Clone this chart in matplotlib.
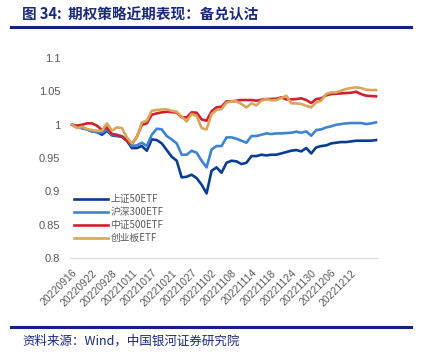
import matplotlib
matplotlib.use("Agg")
import matplotlib.pyplot as plt
from matplotlib.lines import Line2D

plt.rcParams['font.family'] = ['Noto Sans CJK SC', 'DejaVu Sans']

# trading-day labels shown every 4 points
tick_labels = ['20220916', '20220922', '20220928', '20221011', '20221017',
               '20221021', '20221027', '20221102', '20221108', '20221114',
               '20221118', '20221124', '20221130', '20221206', '20221212']

sz50 = [1.000, 0.997, 0.995, 0.993, 0.990, 0.989, 0.985, 0.991, 0.984, 0.983,
        0.982, 0.976, 0.965, 0.965, 0.968, 0.961, 0.978, 0.977, 0.972, 0.962,
        0.952, 0.946, 0.921, 0.922, 0.925, 0.920, 0.910, 0.897, 0.931, 0.936,
        0.928, 0.943, 0.946, 0.945, 0.941, 0.943, 0.953, 0.953, 0.955, 0.954,
        0.955, 0.955, 0.957, 0.959, 0.961, 0.962, 0.960, 0.965, 0.957, 0.966,
        0.968, 0.969, 0.972, 0.973, 0.974, 0.974, 0.975, 0.976, 0.976, 0.976,
        0.976, 0.977]

hs300 = [1.000, 0.996, 0.995, 0.993, 0.990, 0.989, 0.988, 0.993, 0.985, 0.984,
         0.983, 0.978, 0.968, 0.969, 0.973, 0.968, 0.985, 0.994, 0.993, 0.983,
         0.978, 0.972, 0.955, 0.955, 0.961, 0.958, 0.946, 0.936, 0.963, 0.968,
         0.968, 0.981, 0.981, 0.979, 0.976, 0.973, 0.983, 0.983, 0.985, 0.987,
         0.986, 0.987, 0.987, 0.9875, 0.988, 0.9895, 0.988, 0.990, 0.9835, 0.992,
         0.993, 0.996, 0.9975, 1.000, 1.001, 1.002, 1.0025, 1.0025, 1.0025, 1.001,
         1.002, 1.0035]

zz500 = [1.000, 0.9985, 1.000, 1.002, 1.002, 0.9985, 0.992, 0.996, 0.986, 0.985,
         0.982, 0.976, 0.971, 0.982, 1.000, 1.002, 1.015, 1.017, 1.0185, 1.0195,
         1.019, 1.018, 1.011, 1.011, 1.0185, 1.018, 1.008, 1.006, 1.020, 1.026,
         1.027, 1.035, 1.035, 1.036, 1.037, 1.037, 1.037, 1.036, 1.0375, 1.0385,
         1.0385, 1.039, 1.041, 1.038, 1.038, 1.0385, 1.0395, 1.037, 1.0325, 1.0385,
         1.0395, 1.044, 1.046, 1.0465, 1.047, 1.0475, 1.048, 1.0495, 1.046, 1.0435,
         1.043, 1.0425]

cyb = [1.000, 0.995, 0.997, 0.9935, 0.992, 0.991, 0.991, 1.002, 0.991, 0.996,
       0.995, 0.981, 0.972, 0.981, 1.0035, 1.006, 1.021, 1.022, 1.023, 1.023,
       1.021, 1.0195, 1.012, 1.005, 1.016, 1.013, 0.995, 0.993, 1.016, 1.022,
       1.0235, 1.033, 1.035, 1.035, 1.031, 1.026, 1.032, 1.029, 1.036, 1.0385,
       1.0365, 1.037, 1.040, 1.0435, 1.032, 1.032, 1.031, 1.0285, 1.026, 1.0335,
       1.036, 1.046, 1.0485, 1.0485, 1.051, 1.0535, 1.055, 1.056, 1.055, 1.0525,
       1.052, 1.052]

series = [('上证50ETF', sz50, '#0a3d8f'),
          ('沪深300ETF', hs300, '#3d85d4'),
          ('中证500ETF', zz500, '#d21f2f'),
          ('创业板ETF', cyb, '#d9a65c')]

fig = plt.figure(figsize=(4.3, 3.56), dpi=100)
ax = fig.add_axes([0.163, 0.275, 0.716, 0.562])

x = list(range(len(sz50)))
for name, vals, col in series:
    ax.plot(x, vals, color=col, lw=1.9, label=name)

ax.set_ylim(0.8, 1.1)
ax.set_xlim(-0.4, len(x) - 0.6)
ax.set_yticks([0.8, 0.85, 0.9, 0.95, 1.0, 1.05, 1.1])
ax.set_yticklabels(['0.8', '0.85', '0.9', '0.95', '1', '1.05', '1.1'],
                   fontsize=8, color='#595959', family='Liberation Sans')
ax.set_xticks(range(0, 4 * len(tick_labels), 4))
ax.set_xticklabels(tick_labels, rotation=45, ha='right', rotation_mode='anchor',
                   fontsize=7.5, color='#595959', family='Liberation Sans')
ax.tick_params(length=0)
ax.tick_params(axis='x', pad=7)
ax.tick_params(axis='y', pad=7)
for s in ['top', 'right', 'left']:
    ax.spines[s].set_visible(False)
ax.spines['bottom'].set_color('#d9d9d9')
ax.spines['bottom'].set_linewidth(0.8)

leg = ax.legend(loc='lower left', bbox_to_anchor=(0.0, 0.055), frameon=False,
                fontsize=7, handlelength=3.5, labelspacing=0.3,
                handletextpad=0.25, borderaxespad=0.0)
for t in leg.get_texts():
    t.set_color('#595959')

navy = '#1b2a7a'
fig.text(22 / 430, 1 - 15 / 356, '图 34:  期权策略近期表现：备兑认沽', fontsize=10.5,
         fontweight='bold', color=navy, va='center', ha='left')
fig.add_artist(Line2D([11 / 430, 411 / 430], [1 - 27 / 356, 1 - 27 / 356],
                      color='#14237f', lw=2.2))
fig.add_artist(Line2D([11 / 430, 411 / 430], [1 - 327 / 356, 1 - 327 / 356],
                      color='#14237f', lw=2.2))
fig.text(22 / 430, 1 - 341 / 356, '资料来源：Wind，中国银河证券研究院', fontsize=9,
         color=navy, va='center', ha='left', style='italic')

fig.savefig('out.png', dpi=100)
